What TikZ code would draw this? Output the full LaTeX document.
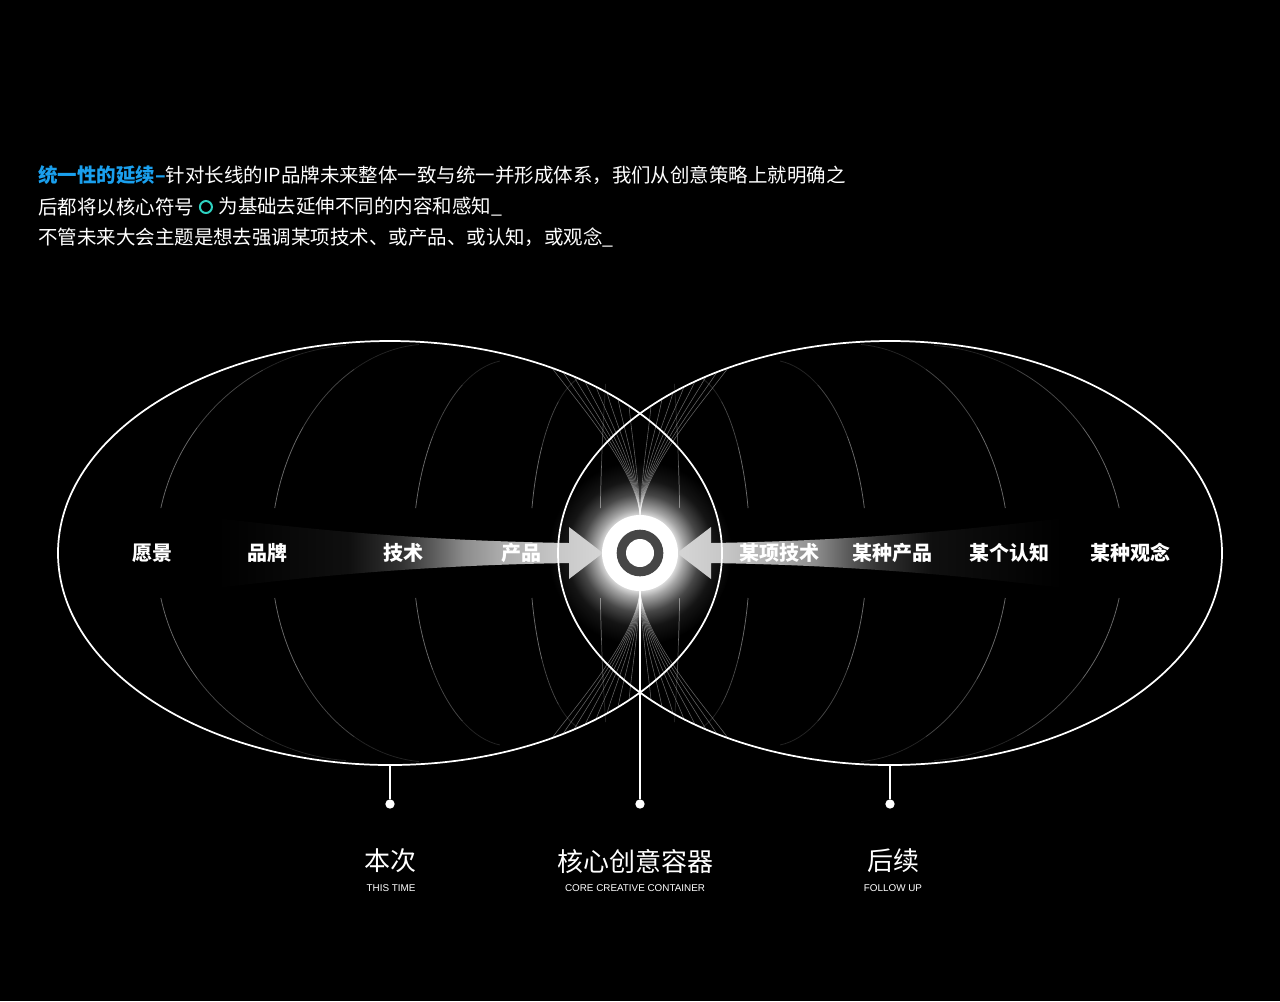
\documentclass[tikz,border=0pt]{standalone}
\usepackage{fontspec}
\setmainfont{Liberation Sans}
\newfontfamily\cjk{Noto Sans CJK SC}
\usetikzlibrary{positioning}

\definecolor{leadblue}{HTML}{1AA0EE}
\definecolor{symbolmint}{HTML}{2ED3C2}
\definecolor{ringgray}{HTML}{464646}

\pgfdeclareradialshading{coreglow}{\pgfpoint{0bp}{0bp}}{%
  color(0bp)=(white); color(9bp)=(white); color(12bp)=(white!65!black);
  color(16bp)=(white!28!black); color(20bp)=(white!8!black);
  color(25bp)=(black); color(50bp)=(black)}
\pgfdeclarehorizontalshading{beamfade}{100bp}{%
  color(0bp)=(black); color(25bp)=(black); color(42bp)=(white!6!black);
  color(49bp)=(white!20!black); color(53bp)=(white!36!black);
  color(57bp)=(white!55!black); color(62bp)=(white!68!black);
  color(69bp)=(white!78!black); color(75bp)=(white!84!black);
  color(100bp)=(white!84!black)}

\tikzset{
  rim/.style={white, line width=1.3pt},
  meridian/.style={white, line width=0.55pt},
  fanline/.style={white, opacity=.4, line width=0.4pt},
  stem/.style={white, line width=0.8pt},
  dot/.style={circle, fill=white, inner sep=0pt, minimum size=7pt},
  lead/.style={white, font=\cjk\fontsize{14.6pt}{17pt}\selectfont, inner sep=0pt},
  tag/.style={white, font=\cjk\bfseries\fontsize{15pt}{18pt}\selectfont},
  title/.style={white, font=\cjk\fontsize{19.5pt}{22pt}\selectfont},
  caption/.style={white, font=\fontsize{7.4pt}{8pt}\selectfont}
}

\begin{document}
\begin{tikzpicture}[x=0.75pt, y=-0.75pt]
\fill[black] (0,0) rectangle (1280,1001);
\useasboundingbox (0,0) rectangle (1280,1001);

% glow behind the core
\shade[shading=coreglow] (640,553) circle[radius=92];

% meridians, fan and beams, mirrored left/right and up/down
\foreach \m in {1,-1}
{
  \begin{scope}[xshift={(1-\m)*480pt}, xscale=\m]
  \foreach \my in {1,-1}
  {
    \begin{scope}[yshift={(\my-1)*414.75pt}, yscale=\my]
    \foreach \cx/\rx/\ry/\e in {360/204/208/86, 430/159/209/86, 510/97/193/84, 590/60/178/80, 660/60/400/25}
    {
      \pgfmathsetmacro\g{asin(45/\ry)}
      \foreach \k/\op in {0/.42, 1/.28, 2/.14}
      {
        \pgfmathsetmacro\ta{180+\g+(\e-\g)*\k/3}
        \pgfmathsetmacro\tb{180+\g+(\e-\g)*(\k+1)/3}
        \draw[meridian, opacity=\op] ({\cx+\rx*cos(\ta)},{553+\ry*sin(\ta)}) arc[start angle=\ta, end angle=\tb, x radius=\rx, y radius=\ry];
      }
    }
    \foreach \xe in {552,563,574,585,596,607,618,629}
    {
      \pgfmathsetmacro\ye{553-212*sqrt(1-((\xe-390)/332)^2)}
      \draw[fanline] (640,517) .. controls (638,470) and ({\xe+0.25*(640-\xe)},{\ye+30}) .. (\xe,\ye);
    }
    \end{scope}
  }
  \shade[shading=beamfade, shading angle={90-90*\m}] (217,518) .. controls (330,532) and (440,541) .. (569,543) -- (569,527) -- (603,553) -- (569,579) -- (569,563) .. controls (440,565) and (330,574) .. (217,588) -- cycle;
  \end{scope}
}

% the two containers
\draw[rim] (390,553) ellipse[x radius=332, y radius=212];
\draw[rim] (890,553) ellipse[x radius=332, y radius=212];
\coordinate (rimL) at (390,765);
\coordinate (rimR) at (890,765);

\foreach \x/\t in {152/愿景, 267/品牌, 403/技术, 521/产品, 779/某项技术, 892/某种产品, 1009/某个认知, 1130/某种观念}
{
    \node[tag] (tag\x) at (\x,553) {\t};
}

% core symbol
\node[circle, fill=white, minimum size=57pt, inner sep=0pt] (core) at (640,553) {};
\node[circle, fill=ringgray, minimum size=35pt, inner sep=0pt] (ring) at (core) {};
\node[circle, fill=white, minimum size=21pt, inner sep=0pt] (eye) at (core) {};

\node[dot] (dotL) at (390,804) {};
\node[dot] (dotC) at (640,804) {};
\node[dot] (dotR) at (890,804) {};
\draw[stem] (rimL) -- (dotL);
\draw[stem] (core.south) -- (dotC);
\draw[stem] (rimR) -- (dotR);

\node[title] (nowT) at (390,861) {本次};
\node[caption] (nowC) at (391,888) {THIS TIME};
\node[title] (coreT) at (635,861) {核心创意容器};
\node[caption] (coreC) at (635,888) {CORE CREATIVE CONTAINER};
\node[title] (nextT) at (893,861) {后续};
\node[caption] (nextC) at (893,888) {FOLLOW UP};

% intro text
\node[lead, anchor=west] (line1) at (38,175) {{\bfseries\color{leadblue}统一性的延续–}针对长线的IP品牌未来整体一致与统一并形成体系，我们从创意策略上就明确之};
\node[lead, anchor=west] (line2a) at (38,207) {后都将以核心符号};
\node[circle, draw=symbolmint, line width=1.5pt, minimum size=9pt, inner sep=0pt, right=3.5pt of line2a] (symbol) {};
\node[lead, right=4pt of symbol] (line2b) {为基础去延伸不同的内容和感知\_};
\node[lead, anchor=west] (line3) at (38,238) {不管未来大会主题是想去强调某项技术、或产品、或认知，或观念\_};
\end{tikzpicture}
\end{document}
